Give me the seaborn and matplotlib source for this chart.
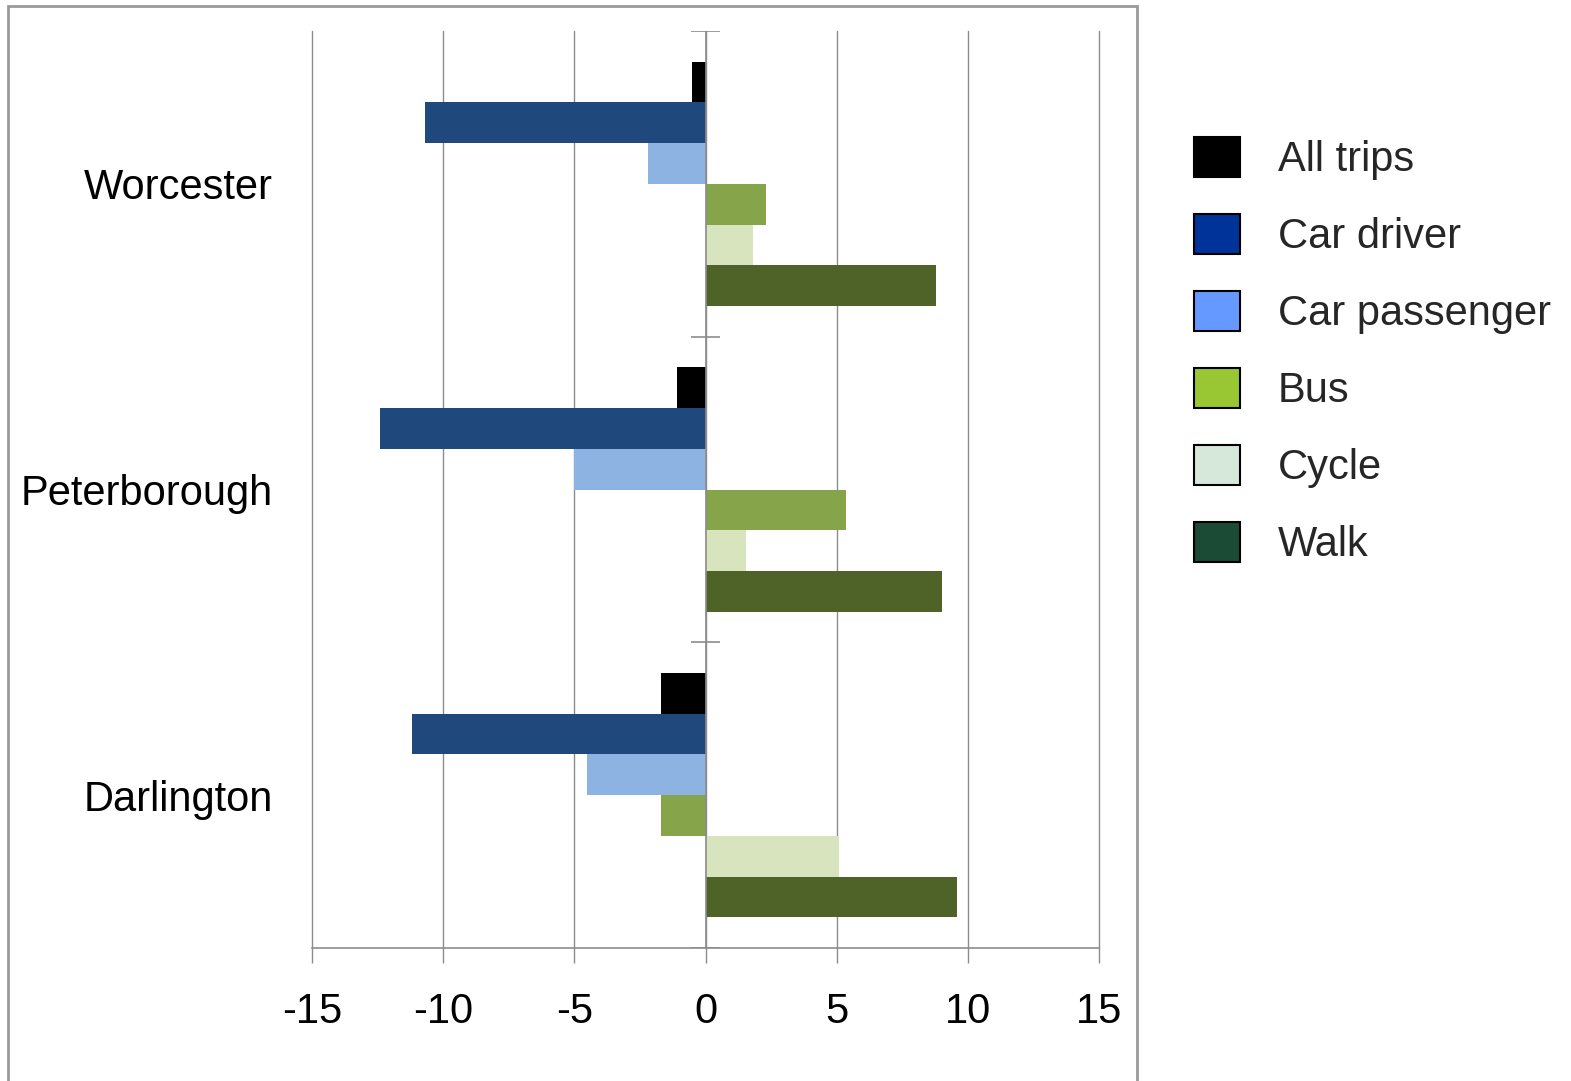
import matplotlib
matplotlib.use("Agg")
import matplotlib.pyplot as plt
from matplotlib.patches import Patch, Rectangle
import seaborn as sns
import pandas as pd

# Change in mode share (percentage points) by town
towns = ["Worcester", "Peterborough", "Darlington"]
modes = ["All trips", "Car driver", "Car passenger", "Bus", "Cycle", "Walk"]
worcester = [-0.5, -10.7, -2.2, 2.3, 1.8, 8.8]
peterborough = [-1.1, -12.4, -5.0, 5.35, 1.55, 9.0]
darlington = [-1.7, -11.2, -4.5, -1.7, 5.1, 9.6]

bar_colors = ["#000000", "#1f497d", "#8db3e2", "#86a44a", "#d7e4bd", "#4f6228"]
legend_colors = ["#000000", "#003399", "#6699ff", "#99c633", "#d5e8da", "#1b4a35"]
x_ticks = [-15, -10, -5, 0, 5, 10, 15]

rows = []
for town, vals in zip(towns, [worcester, peterborough, darlington]):
    for mode, v in zip(modes, vals):
        rows.append({"town": town, "mode": mode, "change": v})
df = pd.DataFrame(rows)

sns.set_theme(style="white")
plt.rcParams["font.family"] = ["Liberation Sans", "DejaVu Sans"]

fig = plt.figure(figsize=(15.71, 10.81), dpi=100)
ax = fig.add_axes([0.1986, 0.1230, 0.5010, 0.8483])

sns.barplot(data=df, y="town", x="change", hue="mode", order=towns,
            hue_order=modes, palette=bar_colors, saturation=1, width=0.8,
            orient="h", linewidth=0, legend=False, ax=ax, zorder=3)

grid_c = "#8c8c8c"
ax.set_xlim(-15, 15)
ax.set_ylim(2.5, -0.5)
ax.set_xticks(x_ticks)
ax.set_xticklabels([str(t) for t in x_ticks])
ax.xaxis.grid(True, color=grid_c, linewidth=1.0, zorder=0)
for gl in ax.get_xgridlines():
    gl.set_clip_on(False)
ax.set_axisbelow(True)
for s in ["top", "right", "left"]:
    ax.spines[s].set_visible(False)
ax.spines["bottom"].set_color(grid_c)
ax.spines["bottom"].set_linewidth(1.2)
ax.tick_params(axis="x", bottom=True, length=11, width=1.0, color=grid_c,
               labelsize=30, pad=21, labelcolor="black")
ax.tick_params(axis="y", left=False, length=0, labelsize=30, pad=28,
               labelcolor="black")
ax.set_xlabel("")
ax.set_ylabel("")

# vertical zero axis with category boundary ticks
ax.axvline(0, color=grid_c, linewidth=1.2, zorder=4)
bounds = [-0.5, 0.5, 1.5, 2.5]
ax.hlines(bounds, -0.55, 0.55, color=grid_c, linewidth=1.2, zorder=4)

handles = [Patch(facecolor=c, edgecolor="black", linewidth=1.5)
           for c in legend_colors]
fig.legend(handles, modes, loc="upper left", bbox_to_anchor=(0.7602, 0.873),
           frameon=False, fontsize=30, handlelength=1.1, handleheight=1.1,
           handletextpad=0.9, labelspacing=0.81, borderpad=0,
           borderaxespad=0)

# outer chart frame
fig.patches.append(Rectangle((0.0051, -0.02), 0.7186, 1.0144,
                             transform=fig.transFigure, fill=False,
                             edgecolor="#9a9a9a", linewidth=2.0))

fig.savefig("out.png", dpi=100)
